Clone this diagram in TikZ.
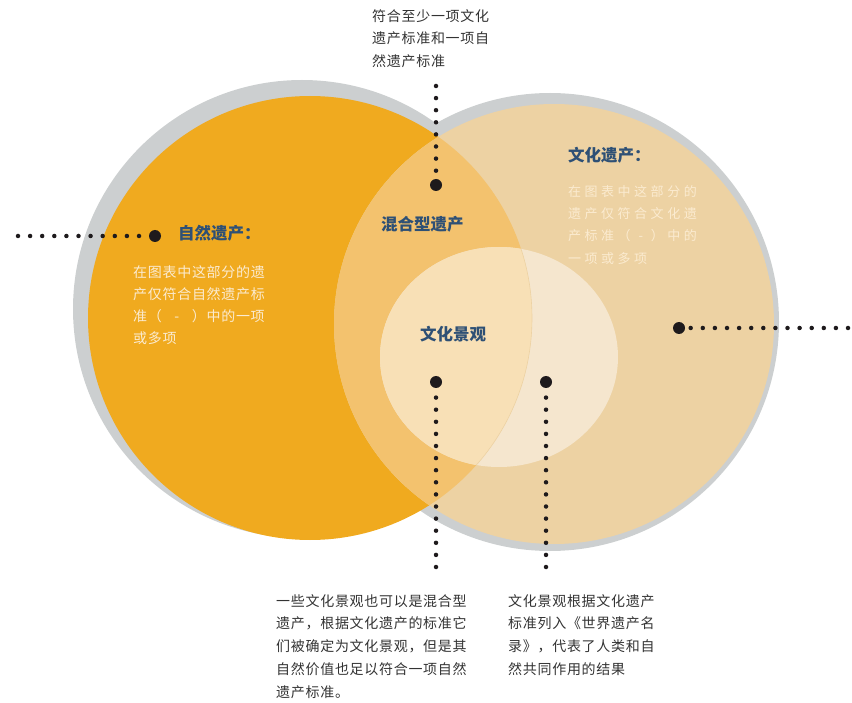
\documentclass[tikz,border=0pt]{standalone}
\usepackage{fontspec}
\setmainfont{Noto Sans CJK SC}
\usetikzlibrary{positioning}
\definecolor{ringgrey}{HTML}{CCCFD0}
\definecolor{natfill}{HTML}{F0AA1F}
\definecolor{culfill}{HTML}{EDD2A3}
\definecolor{mixfill}{HTML}{F3C26E}
\definecolor{landcul}{HTML}{F5E6CE}
\definecolor{landmix}{HTML}{F8E0B6}
\definecolor{headblue}{HTML}{2E5075}
\definecolor{notegrey}{HTML}{333333}
\definecolor{softwhite}{HTML}{FBEBD0}
\definecolor{dotblack}{HTML}{1E1A1C}
\tikzset{
  heading/.style={
    anchor=west, inner sep=0, text=headblue,
    font=\fontsize{16.5}{20}\selectfont\bfseries
  },
  notetext/.style={
    anchor=north west, inner sep=0, align=left, text=notegrey,
    font=\fontsize{14}{22.8}\selectfont\addfontfeature{LetterSpace=5}
  },
  softtext/.style={
    anchor=north west, inner sep=0, align=left, text=softwhite,
    font=\fontsize{14}{22.3}\selectfont\addfontfeature{LetterSpace=5}
  },
  widetext/.style={
    softtext,
    font=\fontsize{13}{22.3}\selectfont\addfontfeature{LetterSpace=27}
  },
  bigdot/.style={
    circle, fill=dotblack, inner sep=0, minimum size=12pt
  },
  dotline/.style={
    dotblack, line width=4.5pt, line cap=round,
    dash pattern=on 0pt off 12.1pt
  }
}
\begin{document}
\begin{tikzpicture}[x=1pt,y=-1pt]
\useasboundingbox (0,0) rectangle (852,703);
\def\natC{(310,318)}
\def\culC{(554,324)}
% grey rings
\fill[ringgrey] (302,309) circle[radius=229pt];
\fill[ringgrey] (550,322) circle[radius=229pt];
% the two sets
\fill[natfill] \natC circle[radius=222pt];
\fill[culfill] \culC circle[radius=220pt];
\begin{scope}
  \clip \natC circle[radius=222pt];
  \fill[mixfill] \culC circle[radius=220pt];
\end{scope}
% cultural landscapes
\fill[landcul] (499,357) ellipse[x radius=119pt, y radius=110pt];
\begin{scope}
  \clip \natC circle[radius=222pt];
  \fill[landmix] (499,357) ellipse[x radius=119pt, y radius=110pt];
\end{scope}
\begin{scope}
  \clip (499,357) ellipse[x radius=119pt, y radius=110pt];
  \draw[culfill, line width=0.6pt] \natC circle[radius=222pt];
\end{scope}

% headings
\node[heading] (natHead) at (178,233) {自然遗产：};
\node[heading] (culHead) at (568,155) {文化遗产：};
\node[heading] (mixHead) at (381,224) {混合型遗产};
\node[heading] (landHead) at (420,334) {文化景观};

% texts inside the sets
\node[softtext] (natText) at (133,265) {在图表中这部分的遗\\产仅符合自然遗产标\\准（\hspace{0.9em}-\hspace{0.9em}）中的一项\\或多项};
\node[widetext] (culText) at (568,185) {在图表中这部分的\\遗产仅符合文化遗\\产标准（\hspace{0.6em}-\hspace{0.6em}）中的\\一项或多项};

% notes outside
\node[notetext] (mixNote) at (372,9) {符合至少一项文化\\遗产标准和一项自\\然遗产标准};
\node[notetext] (landNote) at (276,594) {一些文化景观也可以是混合型\\遗产，根据文化遗产的标准它\\们被确定为文化景观，但是其\\自然价值也足以符合一项自然\\遗产标准。};
\node[notetext] (listNote) at (508,594) {文化景观根据文化遗产\\标准列入《世界遗产名\\录》，代表了人类和自\\然共同作用的结果};

% pointers
\node[bigdot] (natDot) at (155,236) {};
\node[bigdot] (mixDot) at (436,185) {};
\node[bigdot] (culDot) at (679,328) {};
\node[bigdot] (landDot) at (436,382) {};
\node[bigdot] (listDot) at (546,382) {};
\coordinate (natEnd) at (18,236);
\coordinate (mixEnd) at (436,86);
\coordinate (culEnd) at (848,328);
\coordinate (landEnd) at (436,567);
\coordinate (listEnd) at (546,567);
\draw[dotline] (natEnd) -- (natDot);
\draw[dotline] (mixEnd) -- (mixDot);
\draw[dotline] (culEnd) -- (culDot);
\draw[dotline] (landEnd) -- (landDot);
\draw[dotline] (listEnd) -- (listDot);
\end{tikzpicture}
\end{document}
